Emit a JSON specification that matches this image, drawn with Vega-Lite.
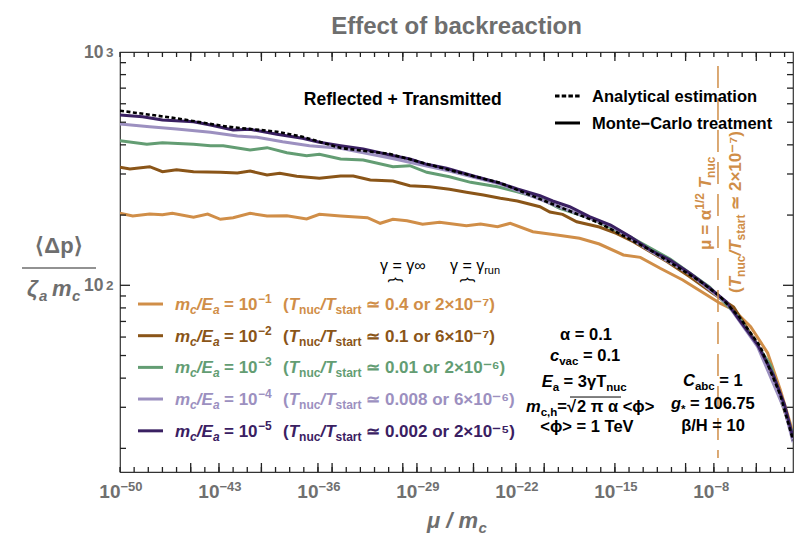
{
"$schema": "https://vega.github.io/schema/vega-lite/v6.json",
"width": 673, "height": 420,
"autosize": "none",
"padding": {"left": 120, "top": 52, "right": 2, "bottom": 64},
"title": {"text": "Effect of backreaction", "font": "Liberation Sans", "fontSize": 24, "fontWeight": "bold", "color": "#6e6e6e", "anchor": "middle", "frame": "group", "offset": 4},
"config": {"view": {"stroke": "#333", "strokeWidth": 1.2}, "axis": {"domain": false, "grid": false, "title": null, "labelColor": "#707070", "labelFont": "Liberation Sans", "labelFontWeight": "bold", "labelOverlap": false, "labelFlush": false, "labelBound": false}},
"resolve": {"axis": {"x": "independent", "y": "independent"}},
"datasets": {
"curves": [
{"s":"s1","x":1e-50,"y":203.5},{"s":"s1","x":7.943e-50,"y":198.2},{"s":"s1","x":1.259e-48,"y":202.1},{"s":"s1","x":1e-47,"y":200.7},{"s":"s1","x":5.012e-47,"y":203.5},{"s":"s1","x":1.585e-45,"y":195.7},{"s":"s1","x":1.585e-44,"y":202.1},{"s":"s1","x":1.259e-43,"y":191.8},{"s":"s1","x":1e-42,"y":194.9},{"s":"s1","x":1.585e-41,"y":203.5},{"s":"s1","x":2.512e-40,"y":198.2},{"s":"s1","x":6.310e-39,"y":198.8},{"s":"s1","x":1.585e-37,"y":192.4},{"s":"s1","x":1.259e-36,"y":201.5},{"s":"s1","x":3.981e-35,"y":198.2},{"s":"s1","x":3.162e-33,"y":194.9},{"s":"s1","x":2.512e-32,"y":184.4},{"s":"s1","x":1.995e-31,"y":191.8},{"s":"s1","x":1.995e-30,"y":189.2},{"s":"s1","x":2.512e-29,"y":182.6},{"s":"s1","x":3.981e-28,"y":186.2},{"s":"s1","x":3.162e-26,"y":180.1},{"s":"s1","x":3.162e-25,"y":183.1},{"s":"s1","x":5.012e-24,"y":178.3},{"s":"s1","x":3.981e-23,"y":184.4},{"s":"s1","x":1.585e-21,"y":169.7},{"s":"s1","x":7.943e-20,"y":164.3},{"s":"s1","x":3.162e-18,"y":159.1},{"s":"s1","x":7.943e-17,"y":150.3},{"s":"s1","x":3.981e-15,"y":134.9},{"s":"s1","x":6.310e-14,"y":131.8},{"s":"s1","x":1.585e-12,"y":118.3},{"s":"s1","x":6.310e-11,"y":105.4},{"s":"s1","x":3.162e-9,"y":90.9},{"s":"s1","x":2.512e-8,"y":84.0},{"s":"s1","x":2.512e-7,"y":78.4},{"s":"s1","x":3.981e-6,"y":66.5},{"s":"s1","x":6.310e-5,"y":51.3},{"s":"s1","x":5.012e-4,"y":35.6},{"s":"s1","x":3.981e-3,"y":23.3},
{"s":"s2","x":1e-50,"y":320.5},{"s":"s2","x":5.012e-50,"y":315.1},{"s":"s2","x":1.259e-48,"y":322.4},{"s":"s2","x":1e-47,"y":306.8},{"s":"s2","x":1e-46,"y":312.9},{"s":"s2","x":1.585e-45,"y":306.8},{"s":"s2","x":1.259e-43,"y":305.0},{"s":"s2","x":1.995e-42,"y":302.9},{"s":"s2","x":1.585e-41,"y":309.0},{"s":"s2","x":2.512e-40,"y":297.0},{"s":"s2","x":1.995e-39,"y":302.0},{"s":"s2","x":3.162e-38,"y":293.2},{"s":"s2","x":1.259e-36,"y":287.4},{"s":"s2","x":3.981e-35,"y":294.1},{"s":"s2","x":3.162e-34,"y":294.1},{"s":"s2","x":5.012e-33,"y":282.6},{"s":"s2","x":1.995e-31,"y":279.9},{"s":"s2","x":3.162e-30,"y":267.2},{"s":"s2","x":7.943e-29,"y":264.6},{"s":"s2","x":1.995e-27,"y":257.9},{"s":"s2","x":3.162e-26,"y":250.4},{"s":"s2","x":5.012e-25,"y":243.8},{"s":"s2","x":7.943e-24,"y":236.0},{"s":"s2","x":1.259e-22,"y":229.8},{"s":"s2","x":5.012e-21,"y":217.2},{"s":"s2","x":2.512e-20,"y":206.2},{"s":"s2","x":1.995e-19,"y":201.5},{"s":"s2","x":1.995e-18,"y":187.3},{"s":"s2","x":7.943e-17,"y":177.8},{"s":"s2","x":1.259e-15,"y":167.1},{"s":"s2","x":1.995e-14,"y":153.8},{"s":"s2","x":5.012e-12,"y":126.2},{"s":"s2","x":1.995e-10,"y":108.9},{"s":"s2","x":7.943e-9,"y":92.7},{"s":"s2","x":2.512e-7,"y":80.7},{"s":"s2","x":1.259e-5,"y":55.5},{"s":"s2","x":1.585e-4,"y":40.5},{"s":"s2","x":3.981e-3,"y":22.4},
{"s":"s3","x":1e-50,"y":416.7},{"s":"s3","x":7.943e-49,"y":402.2},{"s":"s3","x":1e-47,"y":408.6},{"s":"s3","x":1.585e-45,"y":402.2},{"s":"s3","x":2.512e-44,"y":396.7},{"s":"s3","x":1.995e-43,"y":396.7},{"s":"s3","x":1.585e-41,"y":380.2},{"s":"s3","x":2.512e-40,"y":389.0},{"s":"s3","x":6.310e-39,"y":370.2},{"s":"s3","x":1.585e-37,"y":359.4},{"s":"s3","x":1.259e-36,"y":364.4},{"s":"s3","x":3.981e-35,"y":347.9},{"s":"s3","x":1.585e-33,"y":344.5},{"s":"s3","x":1.995e-31,"y":322.4},{"s":"s3","x":3.162e-30,"y":325.5},{"s":"s3","x":5.012e-29,"y":305.0},{"s":"s3","x":1.995e-27,"y":292.1},{"s":"s3","x":6.310e-26,"y":276.3},{"s":"s3","x":5.012e-24,"y":264.6},{"s":"s3","x":1.259e-22,"y":251.9},{"s":"s3","x":5.012e-21,"y":236.0},{"s":"s3","x":1.259e-19,"y":213.8},{"s":"s3","x":1.585e-17,"y":194.3},{"s":"s3","x":1.259e-14,"y":161.1},{"s":"s3","x":7.943e-12,"y":129.6},{"s":"s3","x":5.012e-9,"y":98.3},{"s":"s3","x":6.310e-7,"y":72.4},{"s":"s3","x":1e-4,"y":45.5},{"s":"s3","x":3.981e-3,"y":22.8},
{"s":"s4","x":1e-50,"y":491.3},{"s":"s4","x":1.259e-48,"y":478.3},{"s":"s4","x":1e-46,"y":467.7},{"s":"s4","x":2.512e-44,"y":452.7},{"s":"s4","x":1.995e-42,"y":436.4},{"s":"s4","x":5.012e-41,"y":430.9},{"s":"s4","x":3.162e-39,"y":412.6},{"s":"s4","x":2.512e-37,"y":396.7},{"s":"s4","x":3.981e-35,"y":386.6},{"s":"s4","x":1.259e-31,"y":351.2},{"s":"s4","x":1.995e-27,"y":309.0},{"s":"s4","x":7.943e-24,"y":271.8},{"s":"s4","x":1.259e-19,"y":216.6},{"s":"s4","x":5.012e-16,"y":179.6},{"s":"s4","x":3.162e-13,"y":140.3},{"s":"s4","x":1.995e-10,"y":111.8},{"s":"s4","x":7.943e-8,"y":84.0},{"s":"s4","x":1.259e-5,"y":54.4},{"s":"s4","x":1e-3,"y":29.2},{"s":"s4","x":3.981e-3,"y":21.3},
{"s":"s5","x":1e-50,"y":537.0},{"s":"s5","x":3.981e-49,"y":528.1},{"s":"s5","x":1e-47,"y":511.0},{"s":"s5","x":1.585e-45,"y":502.5},{"s":"s5","x":2.512e-44,"y":486.5},{"s":"s5","x":1e-42,"y":463.1},{"s":"s5","x":1.585e-41,"y":466.3},{"s":"s5","x":1.259e-39,"y":443.8},{"s":"s5","x":7.943e-38,"y":426.7},{"s":"s5","x":1.259e-36,"y":410.2},{"s":"s5","x":3.981e-35,"y":396.7},{"s":"s5","x":1.585e-33,"y":383.9},{"s":"s5","x":1.259e-31,"y":361.8},{"s":"s5","x":3.162e-30,"y":347.9},{"s":"s5","x":5.012e-29,"y":330.0},{"s":"s5","x":1.259e-27,"y":317.3},{"s":"s5","x":1e-25,"y":294.1},{"s":"s5","x":5.012e-24,"y":276.3},{"s":"s5","x":1.259e-22,"y":258.7},{"s":"s5","x":5.012e-21,"y":242.1},{"s":"s5","x":3.981e-20,"y":229.8},{"s":"s5","x":6.310e-19,"y":217.2},{"s":"s5","x":1.585e-17,"y":196.8},{"s":"s5","x":5.012e-16,"y":181.3},{"s":"s5","x":1.259e-14,"y":161.5},{"s":"s5","x":3.162e-13,"y":141.7},{"s":"s5","x":7.943e-12,"y":128.3},{"s":"s5","x":1.995e-10,"y":112.6},{"s":"s5","x":5.012e-9,"y":97.4},{"s":"s5","x":7.943e-8,"y":84.8},{"s":"s5","x":6.310e-7,"y":71.0},{"s":"s5","x":1.259e-5,"y":55.5},{"s":"s5","x":1.585e-4,"y":41.3},{"s":"s5","x":1e-3,"y":30.7},{"s":"s5","x":3.981e-3,"y":22.2}
],
"analytical": [
{"x":1e-50,"y":560.3},{"x":1e-46,"y":519.7},{"x":3.981e-43,"y":478.3},{"x":1.259e-39,"y":455.4},{"x":7.943e-38,"y":433.4},{"x":3.981e-35,"y":387.8},{"x":1.259e-31,"y":365.5},{"x":1.995e-27,"y":312.0},{"x":7.943e-24,"y":274.5},{"x":2.512e-20,"y":225.3},{"x":7.943e-17,"y":184.9},{"x":3.162e-13,"y":141.7},{"x":1e-9,"y":104.3},{"x":2.512e-8,"y":90.0},{"x":6.310e-7,"y":73.1},{"x":1.995e-5,"y":54.4},{"x":5.012e-4,"y":33.9},{"x":3.981e-3,"y":21.7}
],
"vticks": [
{"x":1e-50,"y":15.84,"y2":16.64},{"x":1e-49,"y":15.84,"y2":16.64},{"x":1e-48,"y":15.84,"y2":16.64},{"x":1e-47,"y":15.84,"y2":16.64},{"x":1e-46,"y":15.84,"y2":16.64},{"x":1e-45,"y":15.84,"y2":16.64},{"x":1e-44,"y":15.84,"y2":16.64},{"x":1e-43,"y":15.84,"y2":16.64},{"x":1e-42,"y":15.84,"y2":16.64},{"x":1e-41,"y":15.84,"y2":16.64},{"x":1e-40,"y":15.84,"y2":16.64},{"x":1e-39,"y":15.84,"y2":16.64},{"x":1e-38,"y":15.84,"y2":16.64},{"x":1e-37,"y":15.84,"y2":16.64},{"x":1e-36,"y":15.84,"y2":16.64},{"x":1e-35,"y":15.84,"y2":16.64},{"x":1e-34,"y":15.84,"y2":16.64},{"x":1e-33,"y":15.84,"y2":16.64},{"x":1e-32,"y":15.84,"y2":16.64},{"x":1e-31,"y":15.84,"y2":16.64},{"x":1e-30,"y":15.84,"y2":16.64},{"x":1e-29,"y":15.84,"y2":16.64},{"x":1e-28,"y":15.84,"y2":16.64},{"x":1e-27,"y":15.84,"y2":16.64},{"x":1e-26,"y":15.84,"y2":16.64},{"x":1e-25,"y":15.84,"y2":16.64},{"x":1e-24,"y":15.84,"y2":16.64},{"x":1e-23,"y":15.84,"y2":16.64},{"x":1e-22,"y":15.84,"y2":16.64},{"x":1e-21,"y":15.84,"y2":16.64},{"x":1e-20,"y":15.84,"y2":16.64},{"x":1e-19,"y":15.84,"y2":16.64},{"x":1e-18,"y":15.84,"y2":16.64},{"x":1e-17,"y":15.84,"y2":16.64},{"x":1e-16,"y":15.84,"y2":16.64},{"x":1e-15,"y":15.84,"y2":16.64},{"x":1e-14,"y":15.84,"y2":16.64},{"x":1e-13,"y":15.84,"y2":16.64},{"x":1e-12,"y":15.84,"y2":16.64},{"x":1e-11,"y":15.84,"y2":16.64},{"x":1e-10,"y":15.84,"y2":16.64},{"x":1e-9,"y":15.84,"y2":16.64},{"x":1e-8,"y":15.84,"y2":16.64},{"x":1e-7,"y":15.84,"y2":16.64},{"x":1e-6,"y":15.84,"y2":16.64},{"x":1e-5,"y":15.84,"y2":16.64},{"x":1e-4,"y":15.84,"y2":16.64},{"x":1e-3,"y":15.84,"y2":16.64},
{"x":1e-50,"y":951.8,"y2":1000},{"x":1e-49,"y":951.8,"y2":1000},{"x":1e-48,"y":951.8,"y2":1000},{"x":1e-47,"y":951.8,"y2":1000},{"x":1e-46,"y":951.8,"y2":1000},{"x":1e-45,"y":951.8,"y2":1000},{"x":1e-44,"y":951.8,"y2":1000},{"x":1e-43,"y":951.8,"y2":1000},{"x":1e-42,"y":951.8,"y2":1000},{"x":1e-41,"y":951.8,"y2":1000},{"x":1e-40,"y":951.8,"y2":1000},{"x":1e-39,"y":951.8,"y2":1000},{"x":1e-38,"y":951.8,"y2":1000},{"x":1e-37,"y":951.8,"y2":1000},{"x":1e-36,"y":951.8,"y2":1000},{"x":1e-35,"y":951.8,"y2":1000},{"x":1e-34,"y":951.8,"y2":1000},{"x":1e-33,"y":951.8,"y2":1000},{"x":1e-32,"y":951.8,"y2":1000},{"x":1e-31,"y":951.8,"y2":1000},{"x":1e-30,"y":951.8,"y2":1000},{"x":1e-29,"y":951.8,"y2":1000},{"x":1e-28,"y":951.8,"y2":1000},{"x":1e-27,"y":951.8,"y2":1000},{"x":1e-26,"y":951.8,"y2":1000},{"x":1e-25,"y":951.8,"y2":1000},{"x":1e-24,"y":951.8,"y2":1000},{"x":1e-23,"y":951.8,"y2":1000},{"x":1e-22,"y":951.8,"y2":1000},{"x":1e-21,"y":951.8,"y2":1000},{"x":1e-20,"y":951.8,"y2":1000},{"x":1e-19,"y":951.8,"y2":1000},{"x":1e-18,"y":951.8,"y2":1000},{"x":1e-17,"y":951.8,"y2":1000},{"x":1e-16,"y":951.8,"y2":1000},{"x":1e-15,"y":951.8,"y2":1000},{"x":1e-14,"y":951.8,"y2":1000},{"x":1e-13,"y":951.8,"y2":1000},{"x":1e-12,"y":951.8,"y2":1000},{"x":1e-11,"y":951.8,"y2":1000},{"x":1e-10,"y":951.8,"y2":1000},{"x":1e-9,"y":951.8,"y2":1000},{"x":1e-8,"y":951.8,"y2":1000},{"x":1e-7,"y":951.8,"y2":1000},{"x":1e-6,"y":951.8,"y2":1000},{"x":1e-5,"y":951.8,"y2":1000},{"x":1e-4,"y":951.8,"y2":1000},{"x":1e-3,"y":951.8,"y2":1000},
{"x":1e-45,"y":15.84,"y2":17.31},{"x":1e-43,"y":15.84,"y2":17.31},{"x":1e-40,"y":15.84,"y2":17.31},{"x":1e-36,"y":15.84,"y2":17.31},{"x":1e-35,"y":15.84,"y2":17.31},{"x":1e-30,"y":15.84,"y2":17.31},{"x":1e-29,"y":15.84,"y2":17.31},{"x":1e-25,"y":15.84,"y2":17.31},{"x":1e-22,"y":15.84,"y2":17.31},{"x":1e-20,"y":15.84,"y2":17.31},{"x":1e-15,"y":15.84,"y2":17.31},{"x":1e-10,"y":15.84,"y2":17.31},{"x":1e-8,"y":15.84,"y2":17.31},{"x":1e-5,"y":15.84,"y2":17.31},
{"x":1e-45,"y":915.1,"y2":1000},{"x":1e-40,"y":915.1,"y2":1000},{"x":1e-35,"y":915.1,"y2":1000},{"x":1e-30,"y":915.1,"y2":1000},{"x":1e-25,"y":915.1,"y2":1000},{"x":1e-20,"y":915.1,"y2":1000},{"x":1e-15,"y":915.1,"y2":1000},{"x":1e-10,"y":915.1,"y2":1000},{"x":1e-5,"y":915.1,"y2":1000}
],
"hticks": [
{"y":20,"x":1e-50,"x2":2.657e-50},{"y":30,"x":1e-50,"x2":2.657e-50},{"y":40,"x":1e-50,"x2":2.657e-50},{"y":50,"x":1e-50,"x2":2.657e-50},{"y":60,"x":1e-50,"x2":2.657e-50},{"y":70,"x":1e-50,"x2":2.657e-50},{"y":80,"x":1e-50,"x2":2.657e-50},{"y":90,"x":1e-50,"x2":2.657e-50},{"y":200,"x":1e-50,"x2":2.657e-50},{"y":300,"x":1e-50,"x2":2.657e-50},{"y":400,"x":1e-50,"x2":2.657e-50},{"y":500,"x":1e-50,"x2":2.657e-50},{"y":600,"x":1e-50,"x2":2.657e-50},{"y":700,"x":1e-50,"x2":2.657e-50},{"y":800,"x":1e-50,"x2":2.657e-50},{"y":900,"x":1e-50,"x2":2.657e-50},
{"y":20,"x":1.483e-3,"x2":3.94e-3},{"y":30,"x":1.483e-3,"x2":3.94e-3},{"y":40,"x":1.483e-3,"x2":3.94e-3},{"y":50,"x":1.483e-3,"x2":3.94e-3},{"y":60,"x":1.483e-3,"x2":3.94e-3},{"y":70,"x":1.483e-3,"x2":3.94e-3},{"y":80,"x":1.483e-3,"x2":3.94e-3},{"y":90,"x":1.483e-3,"x2":3.94e-3},{"y":200,"x":1.483e-3,"x2":3.94e-3},{"y":300,"x":1.483e-3,"x2":3.94e-3},{"y":400,"x":1.483e-3,"x2":3.94e-3},{"y":500,"x":1.483e-3,"x2":3.94e-3},{"y":600,"x":1.483e-3,"x2":3.94e-3},{"y":700,"x":1.483e-3,"x2":3.94e-3},{"y":800,"x":1.483e-3,"x2":3.94e-3},{"y":900,"x":1.483e-3,"x2":3.94e-3},
{"y":100,"x":1e-50,"x2":5.10e-50},{"y":100,"x":7.73e-4,"x2":3.94e-3}
]
},
"layer": [
{"data": {"name": "curves"},
 "mark": {"type": "line", "strokeWidth": 3, "clip": true},
 "encoding": {
  "x": {"field": "x", "type": "quantitative", "scale": {"type": "log", "domain": [1e-50, 3.94e-3], "nice": false}, "axis": null},
  "y": {"field": "y", "type": "quantitative", "scale": {"type": "log", "domain": [15.84, 1000], "nice": false}, "axis": null},
  "color": {"field": "s", "type": "nominal", "scale": {"domain": ["s1","s2","s3","s4","s5"], "range": ["#D08E48","#8A5518","#639D73","#9C90C0","#3A2062"]}, "legend": null}
 }
},
{"data": {"name": "analytical"},
 "mark": {"type": "line", "strokeWidth": 2.6, "color": "#000", "strokeDash": [4, 2.5], "clip": true},
 "encoding": {
  "x": {"field": "x", "type": "quantitative", "scale": {"type": "log", "domain": [1e-50, 3.94e-3], "nice": false}, "axis": null},
  "y": {"field": "y", "type": "quantitative", "scale": {"type": "log", "domain": [15.84, 1000], "nice": false}, "axis": null}
 }
},
{"data": {"name": "vticks"}, "mark": {"type": "rule", "color": "#222", "strokeWidth": 1.3},
 "encoding": {"x": {"field": "x", "type": "quantitative", "scale": {"type": "log", "domain": [1e-50, 3.94e-3], "nice": false}, "axis": null},
  "y": {"field": "y", "type": "quantitative", "scale": {"type": "log", "domain": [15.84, 1000], "nice": false}, "axis": null}, "y2": {"field": "y2"}}},
{"data": {"name": "hticks"}, "mark": {"type": "rule", "color": "#222", "strokeWidth": 1.3},
 "encoding": {"x": {"field": "x", "type": "quantitative", "scale": {"type": "log", "domain": [1e-50, 3.94e-3], "nice": false}, "axis": null}, "x2": {"field": "x2"},
  "y": {"field": "y", "type": "quantitative", "scale": {"type": "log", "domain": [15.84, 1000], "nice": false}, "axis": null}}},
{"data": {"values": [{"x": 1.95e-8, "y": 870.9, "y2": 18.19}]},
 "mark": {"type": "rule", "color": "#D08E48", "strokeWidth": 1.5, "strokeDash": [22, 10]},
 "encoding": {"x": {"field": "x", "type": "quantitative", "scale": {"type": "log", "domain": [1e-50, 3.94e-3], "nice": false}, "axis": null},
  "y": {"field": "y", "type": "quantitative", "scale": {"type": "log", "domain": [15.84, 1000], "nice": false}, "axis": null}, "y2": {"field": "y2"}}
},
{"data": {"values": [{"s":"s1","x":1.87e-49,"x2":1.10e-47,"y":83.14},{"s":"s2","x":1.87e-49,"x2":1.10e-47,"y":60.81},{"s":"s3","x":1.87e-49,"x2":1.10e-47,"y":44.48},{"s":"s4","x":1.87e-49,"x2":1.10e-47,"y":32.55},{"s":"s5","x":1.87e-49,"x2":1.10e-47,"y":23.78}]},
 "mark": {"type": "rule", "strokeWidth": 3},
 "encoding": {"x": {"field": "x", "type": "quantitative", "scale": {"type": "log", "domain": [1e-50, 3.94e-3], "nice": false}, "axis": null}, "x2": {"field": "x2"},
  "y": {"field": "y", "type": "quantitative", "scale": {"type": "log", "domain": [15.84, 1000], "nice": false}, "axis": null},
  "color": {"field": "s", "type": "nominal", "scale": {"domain": ["s1","s2","s3","s4","s5"], "range": ["#D08E48","#8A5518","#639D73","#9C90C0","#3A2062"]}, "legend": null}}
},
{"data": {"values": [{"x":5.81e-20,"x2":3.40e-18,"y":647.8}]},
 "mark": {"type": "rule", "strokeWidth": 3, "color": "#000", "strokeDash": [4.5, 2.2]},
 "encoding": {"x": {"field": "x", "type": "quantitative", "scale": {"type": "log", "domain": [1e-50, 3.94e-3], "nice": false},
    "axis": {"orient": "bottom", "ticks": false, "tickSize": 0, "values": [1e-50,1e-43,1e-36,1e-29,1e-22,1e-15,1e-8], "labelExpr": "'10'", "labelAlign": "right", "labelDx": 1, "labelBaseline": "alphabetic", "labelPadding": 25, "labelFontSize": 19}}, "x2": {"field": "x2"},
  "y": {"field": "y", "type": "quantitative", "scale": {"type": "log", "domain": [15.84, 1000], "nice": false},
    "axis": {"orient": "left", "ticks": false, "tickSize": 0, "values": [100, 1000], "labelExpr": "'10'", "labelAlign": "right", "labelBaseline": "middle", "labelPadding": 17, "labelFontSize": 17.5}}}
},
{"data": {"values": [{"x":5.81e-20,"x2":3.40e-18,"y":496.3}]},
 "mark": {"type": "rule", "strokeWidth": 3, "color": "#000"},
 "encoding": {"x": {"field": "x", "type": "quantitative", "scale": {"type": "log", "domain": [1e-50, 3.94e-3], "nice": false},
    "axis": {"orient": "bottom", "ticks": false, "tickSize": 0, "values": [1e-50,1e-43,1e-36,1e-29,1e-22,1e-15,1e-8], "labelExpr": "'−' + (-round(log(datum.value)/LN10))", "labelAlign": "left", "labelDx": 1, "labelBaseline": "alphabetic", "labelPadding": 18.5, "labelFontSize": 13}}, "x2": {"field": "x2"},
  "y": {"field": "y", "type": "quantitative", "scale": {"type": "log", "domain": [15.84, 1000], "nice": false},
    "axis": {"orient": "left", "ticks": false, "tickSize": 0, "values": [100, 1000], "labelExpr": "datum.value == 100 ? '2' : '3'", "labelAlign": "right", "labelBaseline": "middle", "labelDy": -7, "labelPadding": 7, "labelFontSize": 13.5}}}
},
{"data": {"values": [{"x":6.68e-19,"x2":2.70e-15,"y":33.2}]},
 "mark": {"type": "rule", "strokeWidth": 1, "color": "#000"},
 "encoding": {"x": {"field": "x", "type": "quantitative", "scale": {"type": "log", "domain": [1e-50, 3.94e-3], "nice": false}, "axis": null}, "x2": {"field": "x2"},
  "y": {"field": "y", "type": "quantitative", "scale": {"type": "log", "domain": [15.84, 1000], "nice": false}, "axis": null}}
},
{"data": {"values": [{"x":1.17e-57,"x2":2.01e-52,"y":118.6}]},
 "mark": {"type": "rule", "strokeWidth": 1.5, "color": "#6e6e6e"},
 "encoding": {"x": {"field": "x", "type": "quantitative", "scale": {"type": "log", "domain": [1e-50, 3.94e-3], "nice": false}, "axis": null}, "x2": {"field": "x2"},
  "y": {"field": "y", "type": "quantitative", "scale": {"type": "log", "domain": [15.84, 1000], "nice": false}, "axis": null}}
},
{"data": {"values": [
 {"s":"s1","x":2.26e-43,"y":83.14,"t":"= 10"},{"s":"s1","x":3.37e-39,"y":83.14,"t":"("},{"s":"s1","x":2.58e-33,"y":83.14,"t":"≃ 0.4 or 2×10⁻⁷)"},
 {"s":"s2","x":2.26e-43,"y":60.81,"t":"= 10"},{"s":"s2","x":3.37e-39,"y":60.81,"t":"("},{"s":"s2","x":2.58e-33,"y":60.81,"t":"≃ 0.1 or 6×10⁻⁷)"},
 {"s":"s3","x":2.26e-43,"y":44.48,"t":"= 10"},{"s":"s3","x":3.37e-39,"y":44.48,"t":"("},{"s":"s3","x":2.58e-33,"y":44.48,"t":"≃ 0.01 or 2×10⁻⁶)"},
 {"s":"s4","x":2.26e-43,"y":32.55,"t":"= 10"},{"s":"s4","x":3.37e-39,"y":32.55,"t":"("},{"s":"s4","x":2.58e-33,"y":32.55,"t":"≃ 0.008 or 6×10⁻⁶)"},
 {"s":"s5","x":2.26e-43,"y":23.78,"t":"= 10"},{"s":"s5","x":3.37e-39,"y":23.78,"t":"("},{"s":"s5","x":2.58e-33,"y":23.78,"t":"≃ 0.002 or 2×10⁻⁵)"}]},
 "mark": {"type": "text", "align": "left", "baseline": "alphabetic", "dy": 6, "font": "Liberation Sans", "fontSize": 17, "fontWeight": "bold"},
 "encoding": {"x": {"field": "x", "type": "quantitative", "scale": {"type": "log", "domain": [1e-50, 3.94e-3], "nice": false}, "axis": null},
  "y": {"field": "y", "type": "quantitative", "scale": {"type": "log", "domain": [15.84, 1000], "nice": false}, "axis": null},
  "text": {"field": "t"},
  "color": {"field": "s", "type": "nominal", "scale": {"domain": ["s1","s2","s3","s4","s5"], "range": ["#D08E48","#8A5518","#639D73","#9C90C0","#3A2062"]}, "legend": null}}
},
{"data": {"values": [
 {"s":"s1","x":5.75e-41,"y":83.14,"t":"−1"},{"s":"s2","x":5.75e-41,"y":60.81,"t":"−2"},{"s":"s3","x":5.75e-41,"y":44.48,"t":"−3"},{"s":"s4","x":5.75e-41,"y":32.55,"t":"−4"},{"s":"s5","x":5.75e-41,"y":23.78,"t":"−5"}]},
 "mark": {"type": "text", "align": "left", "baseline": "alphabetic", "dy": -1, "font": "Liberation Sans", "fontSize": 12, "fontWeight": "bold"},
 "encoding": {"x": {"field": "x", "type": "quantitative", "scale": {"type": "log", "domain": [1e-50, 3.94e-3], "nice": false}, "axis": null},
  "y": {"field": "y", "type": "quantitative", "scale": {"type": "log", "domain": [15.84, 1000], "nice": false}, "axis": null},
  "text": {"field": "t"},
  "color": {"field": "s", "type": "nominal", "scale": {"domain": ["s1","s2","s3","s4","s5"], "range": ["#D08E48","#8A5518","#639D73","#9C90C0","#3A2062"]}, "legend": null}}
},
{"data": {"values": [
 {"s":"s1","x":7.76e-47,"y":83.14,"t":"m"},{"s":"s1","x":2.70e-45,"y":83.14,"t":"/E"},{"s":"s1","x":8.53e-39,"y":83.14,"t":"T"},{"s":"s1","x":1.49e-36,"y":83.14,"t":"/T"},
 {"s":"s2","x":7.76e-47,"y":60.81,"t":"m"},{"s":"s2","x":2.70e-45,"y":60.81,"t":"/E"},{"s":"s2","x":8.53e-39,"y":60.81,"t":"T"},{"s":"s2","x":1.49e-36,"y":60.81,"t":"/T"},
 {"s":"s3","x":7.76e-47,"y":44.48,"t":"m"},{"s":"s3","x":2.70e-45,"y":44.48,"t":"/E"},{"s":"s3","x":8.53e-39,"y":44.48,"t":"T"},{"s":"s3","x":1.49e-36,"y":44.48,"t":"/T"},
 {"s":"s4","x":7.76e-47,"y":32.55,"t":"m"},{"s":"s4","x":2.70e-45,"y":32.55,"t":"/E"},{"s":"s4","x":8.53e-39,"y":32.55,"t":"T"},{"s":"s4","x":1.49e-36,"y":32.55,"t":"/T"},
 {"s":"s5","x":7.76e-47,"y":23.78,"t":"m"},{"s":"s5","x":2.70e-45,"y":23.78,"t":"/E"},{"s":"s5","x":8.53e-39,"y":23.78,"t":"T"},{"s":"s5","x":1.49e-36,"y":23.78,"t":"/T"}]},
 "mark": {"type": "text", "align": "left", "baseline": "alphabetic", "dy": 6, "font": "Liberation Sans", "fontSize": 17, "fontWeight": "bold", "fontStyle": "italic"},
 "encoding": {"x": {"field": "x", "type": "quantitative", "scale": {"type": "log", "domain": [1e-50, 3.94e-3], "nice": false}, "axis": null},
  "y": {"field": "y", "type": "quantitative", "scale": {"type": "log", "domain": [15.84, 1000], "nice": false}, "axis": null},
  "text": {"field": "t"},
  "color": {"field": "s", "type": "nominal", "scale": {"domain": ["s1","s2","s3","s4","s5"], "range": ["#D08E48","#8A5518","#639D73","#9C90C0","#3A2062"]}, "legend": null}}
},
{"data": {"values": [
 {"s":"s1","x":9.08e-46,"y":83.14,"t":"c"},{"s":"s1","x":3.72e-44,"y":83.14,"t":"a"},
 {"s":"s2","x":9.08e-46,"y":60.81,"t":"c"},{"s":"s2","x":3.72e-44,"y":60.81,"t":"a"},
 {"s":"s3","x":9.08e-46,"y":44.48,"t":"c"},{"s":"s3","x":3.72e-44,"y":44.48,"t":"a"},
 {"s":"s4","x":9.08e-46,"y":32.55,"t":"c"},{"s":"s4","x":3.72e-44,"y":32.55,"t":"a"},
 {"s":"s5","x":9.08e-46,"y":23.78,"t":"c"},{"s":"s5","x":3.72e-44,"y":23.78,"t":"a"}]},
 "mark": {"type": "text", "align": "left", "baseline": "alphabetic", "dy": 10, "font": "Liberation Sans", "fontSize": 12, "fontWeight": "bold", "fontStyle": "italic"},
 "encoding": {"x": {"field": "x", "type": "quantitative", "scale": {"type": "log", "domain": [1e-50, 3.94e-3], "nice": false}, "axis": null},
  "y": {"field": "y", "type": "quantitative", "scale": {"type": "log", "domain": [15.84, 1000], "nice": false}, "axis": null},
  "text": {"field": "t"},
  "color": {"field": "s", "type": "nominal", "scale": {"domain": ["s1","s2","s3","s4","s5"], "range": ["#D08E48","#8A5518","#639D73","#9C90C0","#3A2062"]}, "legend": null}}
},
{"data": {"values": [
 {"s":"s1","x":4.63e-38,"y":83.14,"t":"nuc"},{"s":"s1","x":1.74e-35,"y":83.14,"t":"start"},
 {"s":"s2","x":4.63e-38,"y":60.81,"t":"nuc"},{"s":"s2","x":1.74e-35,"y":60.81,"t":"start"},
 {"s":"s3","x":4.63e-38,"y":44.48,"t":"nuc"},{"s":"s3","x":1.74e-35,"y":44.48,"t":"start"},
 {"s":"s4","x":4.63e-38,"y":32.55,"t":"nuc"},{"s":"s4","x":1.74e-35,"y":32.55,"t":"start"},
 {"s":"s5","x":4.63e-38,"y":23.78,"t":"nuc"},{"s":"s5","x":1.74e-35,"y":23.78,"t":"start"}]},
 "mark": {"type": "text", "align": "left", "baseline": "alphabetic", "dy": 10, "font": "Liberation Sans", "fontSize": 12, "fontWeight": "bold"},
 "encoding": {"x": {"field": "x", "type": "quantitative", "scale": {"type": "log", "domain": [1e-50, 3.94e-3], "nice": false}, "axis": null},
  "y": {"field": "y", "type": "quantitative", "scale": {"type": "log", "domain": [15.84, 1000], "nice": false}, "axis": null},
  "text": {"field": "t"},
  "color": {"field": "s", "type": "nominal", "scale": {"domain": ["s1","s2","s3","s4","s5"], "range": ["#D08E48","#8A5518","#639D73","#9C90C0","#3A2062"]}, "legend": null}}
},
{"data": {"values": [{"x":6.25e-9,"y":141.7,"t":"μ = α"},{"x":8.28e-7,"y":92.7,"t":"("},{"x":8.28e-7,"y":210.7,"t":"≃ 2×10⁻⁷)"}]},
 "mark": {"type": "text", "align": "left", "baseline": "alphabetic", "angle": 270, "font": "Liberation Sans", "fontSize": 17, "fontWeight": "bold", "color": "#D08E48"},
 "encoding": {"x": {"field": "x", "type": "quantitative", "scale": {"type": "log", "domain": [1e-50, 3.94e-3], "nice": false}, "axis": null},
  "y": {"field": "y", "type": "quantitative", "scale": {"type": "log", "domain": [15.84, 1000], "nice": false}, "axis": null}, "text": {"field": "t"}}
},
{"data": {"values": [{"x":6.25e-9,"y":260.5,"t":"T"},{"x":8.28e-7,"y":98.0,"t":"T"},{"x":8.28e-7,"y":134.1,"t":"/T"}]},
 "mark": {"type": "text", "align": "left", "baseline": "alphabetic", "angle": 270, "font": "Liberation Sans", "fontSize": 17, "fontWeight": "bold", "fontStyle": "italic", "color": "#D08E48"},
 "encoding": {"x": {"field": "x", "type": "quantitative", "scale": {"type": "log", "domain": [1e-50, 3.94e-3], "nice": false}, "axis": null},
  "y": {"field": "y", "type": "quantitative", "scale": {"type": "log", "domain": [15.84, 1000], "nice": false}, "axis": null}, "text": {"field": "t"}}
},
{"data": {"values": [{"x":6.25e-9,"y":288.6,"t":"nuc"},{"x":8.28e-7,"y":108.6,"t":"nuc"},{"x":8.28e-7,"y":155.6,"t":"start"}]},
 "mark": {"type": "text", "align": "left", "baseline": "alphabetic", "angle": 270, "dy": 4, "font": "Liberation Sans", "fontSize": 12, "fontWeight": "bold", "color": "#D08E48"},
 "encoding": {"x": {"field": "x", "type": "quantitative", "scale": {"type": "log", "domain": [1e-50, 3.94e-3], "nice": false}, "axis": null},
  "y": {"field": "y", "type": "quantitative", "scale": {"type": "log", "domain": [15.84, 1000], "nice": false}, "axis": null}, "text": {"field": "t"}}
},
{"data": {"values": [{"x":6.25e-9,"y":210.9,"t":"1/2"}]},
 "mark": {"type": "text", "align": "left", "baseline": "alphabetic", "angle": 270, "dy": -7, "font": "Liberation Sans", "fontSize": 12, "fontWeight": "bold", "color": "#D08E48"},
 "encoding": {"x": {"field": "x", "type": "quantitative", "scale": {"type": "log", "domain": [1e-50, 3.94e-3], "nice": false}, "axis": null},
  "y": {"field": "y", "type": "quantitative", "scale": {"type": "log", "domain": [15.84, 1000], "nice": false}, "axis": null}, "text": {"field": "t"}}
},
{"data": {"values": [{"x":1e-30,"y":628.8,"t":"Reflected + Transmitted"}]},
 "mark": {"type": "text", "align": "center", "baseline": "alphabetic", "dy": 6, "font": "Liberation Sans", "fontSize": 17.5, "fontWeight": "bold", "color": "#000"},
 "encoding": {"x": {"field": "x", "type": "quantitative", "scale": {"type": "log", "domain": [1e-50, 3.94e-3], "nice": false}, "axis": null},
  "y": {"field": "y", "type": "quantitative", "scale": {"type": "log", "domain": [15.84, 1000], "nice": false}, "axis": null}, "text": {"field": "t"}}
},
{"data": {"values": [
 {"x":2.40e-17,"y":647.8,"t":"Analytical estimation"},{"x":2.40e-17,"y":496.3,"t":"Monte−Carlo treatment"},
 {"x":5.55e-18,"y":50.25,"t":"= 0.1"},{"x":2.36e-19,"y":39.07,"t":"= 3γT"},
 {"x":8.43e-20,"y":30.39,"t":"=√"},{"x":2.09e-18,"y":30.39,"t":"2 π α <ϕ>"},
 {"x":2.38e-8,"y":39.27,"t":"= 1"},{"x":2.08e-10,"y":31.15,"t":"= 106.75"}]},
 "mark": {"type": "text", "align": "left", "baseline": "alphabetic", "dy": 6, "font": "Liberation Sans", "fontSize": 16.5, "fontWeight": "bold", "color": "#000"},
 "encoding": {"x": {"field": "x", "type": "quantitative", "scale": {"type": "log", "domain": [1e-50, 3.94e-3], "nice": false}, "axis": null},
  "y": {"field": "y", "type": "quantitative", "scale": {"type": "log", "domain": [15.84, 1000], "nice": false}, "axis": null}, "text": {"field": "t"}}
},
{"data": {"values": [{"x":9.04e-18,"y":62.14,"t":"α = 0.1"},{"x":1.06e-17,"y":24.94,"t":"<ϕ> = 1 TeV"},{"x":8.67e-9,"y":25.19,"t":"β/H = 10"}]},
 "mark": {"type": "text", "align": "center", "baseline": "alphabetic", "dy": 6, "font": "Liberation Sans", "fontSize": 16.5, "fontWeight": "bold", "color": "#000"},
 "encoding": {"x": {"field": "x", "type": "quantitative", "scale": {"type": "log", "domain": [1e-50, 3.94e-3], "nice": false}, "axis": null},
  "y": {"field": "y", "type": "quantitative", "scale": {"type": "log", "domain": [15.84, 1000], "nice": false}, "axis": null}, "text": {"field": "t"}}
},
{"data": {"values": [{"x":2.57e-20,"y":50.25,"t":"c"},{"x":6.65e-21,"y":39.07,"t":"E"},{"x":5.16e-22,"y":30.39,"t":"m"},{"x":6.55e-11,"y":39.27,"t":"C"},{"x":9.27e-12,"y":31.15,"t":"g"}]},
 "mark": {"type": "text", "align": "left", "baseline": "alphabetic", "dy": 6, "font": "Liberation Sans", "fontSize": 16.5, "fontWeight": "bold", "fontStyle": "italic", "color": "#000"},
 "encoding": {"x": {"field": "x", "type": "quantitative", "scale": {"type": "log", "domain": [1e-50, 3.94e-3], "nice": false}, "axis": null},
  "y": {"field": "y", "type": "quantitative", "scale": {"type": "log", "domain": [15.84, 1000], "nice": false}, "axis": null}, "text": {"field": "t"}}
},
{"data": {"values": [{"x":1.15e-19,"y":50.25,"t":"vac"},{"x":3.99e-20,"y":39.07,"t":"a"},{"x":2.47e-16,"y":39.07,"t":"nuc"},{"x":5.65e-21,"y":30.39,"t":"c,h"},{"x":4.55e-10,"y":39.27,"t":"abc"},{"x":4.81e-11,"y":31.15,"t":"*"}]},
 "mark": {"type": "text", "align": "left", "baseline": "alphabetic", "dy": 10, "font": "Liberation Sans", "fontSize": 11.5, "fontWeight": "bold", "color": "#000"},
 "encoding": {"x": {"field": "x", "type": "quantitative", "scale": {"type": "log", "domain": [1e-50, 3.94e-3], "nice": false}, "axis": null},
  "y": {"field": "y", "type": "quantitative", "scale": {"type": "log", "domain": [15.84, 1000], "nice": false}, "axis": null}, "text": {"field": "t"}}
},
{"data": {"values": [{"x":2.44e-32,"y":122.2,"t":"γ = γ∞"},{"x":2.18e-27,"y":122.2,"t":"γ = γ"}]},
 "mark": {"type": "text", "align": "left", "baseline": "alphabetic", "dy": 6, "font": "Liberation Sans", "fontSize": 16, "color": "#000"},
 "encoding": {"x": {"field": "x", "type": "quantitative", "scale": {"type": "log", "domain": [1e-50, 3.94e-3], "nice": false}, "axis": null},
  "y": {"field": "y", "type": "quantitative", "scale": {"type": "log", "domain": [15.84, 1000], "nice": false}, "axis": null}, "text": {"field": "t"}}
},
{"data": {"values": [{"x":5.71e-25,"y":122.2,"t":"run"}]},
 "mark": {"type": "text", "align": "left", "baseline": "alphabetic", "dy": 9, "font": "Liberation Sans", "fontSize": 11, "color": "#000"},
 "encoding": {"x": {"field": "x", "type": "quantitative", "scale": {"type": "log", "domain": [1e-50, 3.94e-3], "nice": false}, "axis": null},
  "y": {"field": "y", "type": "quantitative", "scale": {"type": "log", "domain": [15.84, 1000], "nice": false}, "axis": null}, "text": {"field": "t"}}
},
{"data": {"values": [{"x":3.30e-31,"y":105.4,"t":"{"},{"x":3.77e-26,"y":105.4,"t":"{"}]},
 "mark": {"type": "text", "align": "center", "baseline": "middle", "angle": 90, "font": "Liberation Sans", "fontSize": 16, "color": "#000"},
 "encoding": {"x": {"field": "x", "type": "quantitative", "scale": {"type": "log", "domain": [1e-50, 3.94e-3], "nice": false}, "axis": null},
  "y": {"field": "y", "type": "quantitative", "scale": {"type": "log", "domain": [15.84, 1000], "nice": false}, "axis": null}, "text": {"field": "t"}}
},
{"data": {"values": [{"x":5.14e-29,"y":9.11,"t":"μ / m"},{"x":2.65e-57,"y":90.0,"t":"ζ"},{"x":1.55e-55,"y":90.0,"t":"m"}]},
 "mark": {"type": "text", "align": "left", "baseline": "alphabetic", "font": "Liberation Sans", "fontSize": 22, "fontWeight": "bold", "fontStyle": "italic", "color": "#6e6e6e"},
 "encoding": {"x": {"field": "x", "type": "quantitative", "scale": {"type": "log", "domain": [1e-50, 3.94e-3], "nice": false}, "axis": null},
  "y": {"field": "y", "type": "quantitative", "scale": {"type": "log", "domain": [15.84, 1000], "nice": false}, "axis": null}, "text": {"field": "t"}}
},
{"data": {"values": [{"x":2.26e-25,"y":9.11,"t":"c"},{"x":1.87e-56,"y":90.0,"t":"a"},{"x":4.03e-54,"y":90.0,"t":"c"}]},
 "mark": {"type": "text", "align": "left", "baseline": "alphabetic", "dy": 5, "font": "Liberation Sans", "fontSize": 15, "fontWeight": "bold", "fontStyle": "italic", "color": "#6e6e6e"},
 "encoding": {"x": {"field": "x", "type": "quantitative", "scale": {"type": "log", "domain": [1e-50, 3.94e-3], "nice": false}, "axis": null},
  "y": {"field": "y", "type": "quantitative", "scale": {"type": "log", "domain": [15.84, 1000], "nice": false}, "axis": null}, "text": {"field": "t"}}
},
{"data": {"values": [{"x":4.85e-55,"y":137.5,"t":"⟨Δp⟩"}]},
 "mark": {"type": "text", "align": "center", "baseline": "alphabetic", "font": "Liberation Sans", "fontSize": 22, "fontWeight": "bold", "color": "#6e6e6e"},
 "encoding": {"x": {"field": "x", "type": "quantitative", "scale": {"type": "log", "domain": [1e-50, 3.94e-3], "nice": false}, "axis": null},
  "y": {"field": "y", "type": "quantitative", "scale": {"type": "log", "domain": [15.84, 1000], "nice": false}, "axis": null}, "text": {"field": "t"}}
}
]
}
